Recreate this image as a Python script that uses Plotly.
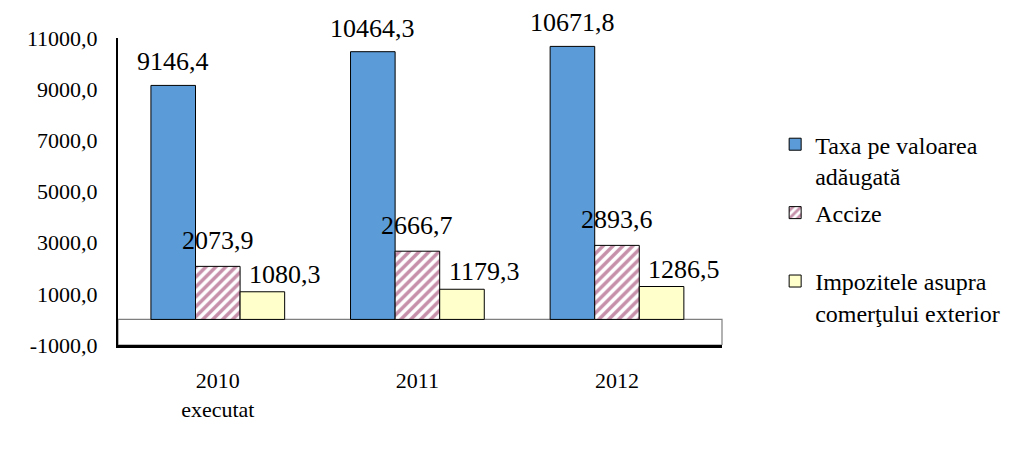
import plotly.graph_objects as go

categories = ["2010<br>executat", "2011", "2012"]
series_names = ["Taxa pe valoarea<br>adăugată", "Accize<br> ", "Impozitele asupra<br>comerţului exterior"]
tva = [9146.4, 10464.3, 10671.8]
accize = [2073.9, 2666.7, 2893.6]
impozite = [1080.3, 1179.3, 1286.5]
y_ticks = [-1000, 1000, 3000, 5000, 7000, 9000, 11000]

values = [tva, accize, impozite]
colors = ["#5B9BD8", "#FFFFFF", "#FFFFCC"]
serif = "Times New Roman"


def fmt(v):
    return f"{v:.1f}".replace(".", ",")


fig = go.Figure()
for i, (name, vals) in enumerate(zip(series_names, values)):
    marker = dict(color=colors[i], line=dict(color="#000000", width=1))
    if i == 1:
        marker["pattern"] = dict(shape="/", fgcolor="#8E2255", bgcolor="#FFFFFF",
                                 size=7, solidity=0.5)
    fig.add_trace(go.Bar(x=categories, y=vals, name=name, marker=marker,
                         legendgroup=str(i)))

# floor of the pseudo-3D chart (between -1000 and 0)
fig.add_shape(type="rect", xref="paper", x0=0, x1=1, yref="y", y0=-1000, y1=0,
              fillcolor="#FFFFFF", line=dict(color="#7F7F7F", width=1.2), layer="below")

xshifts = [-45, 0, 67]
yshifts = [7, 9, 1]
for i, vals in enumerate(values):
    for j, v in enumerate(vals):
        fig.add_annotation(x=j, y=v, xref="x", yref="y", text=fmt(v),
                           showarrow=False, yanchor="bottom", xshift=xshifts[i], yshift=yshifts[i],
                           font=dict(family=serif, size=26, color="#000000"))

# page body has an 8px default margin, so the figure is 8px smaller than the window
fig.update_layout(
    width=1019, height=446,
    margin=dict(l=110, r=305, t=30, b=109, autoexpand=False),
    paper_bgcolor="#FFFFFF", plot_bgcolor="rgba(0,0,0,0)",
    barmode="group", bargap=0.33, bargroupgap=0,
    font=dict(family=serif, color="#000000"),
    showlegend=True,
    legend=dict(x=1.088, y=0.726, xanchor="left", yanchor="top", valign="top",
                font=dict(family=serif, size=24, color="#000000"),
                tracegroupgap=3, bgcolor="rgba(0,0,0,0)"),
)
fig.update_xaxes(type="category", automargin=False, showline=True, linecolor="#000000",
                 linewidth=2.5, showgrid=False,
                 ticks="outside", ticklen=14, tickcolor="rgba(0,0,0,0)",
                 tickfont=dict(family=serif, size=22, color="#000000"))
fig.update_yaxes(range=[-1000, 11000], tickvals=y_ticks, ticktext=[fmt(v) for v in y_ticks],
                 automargin=False, showline=True, linecolor="#000000", linewidth=2, showgrid=False,
                 zeroline=False, ticks="outside", ticklen=14, tickcolor="rgba(0,0,0,0)",
                 tickfont=dict(family=serif, size=22, color="#000000"))

fig.write_html("out.html")
